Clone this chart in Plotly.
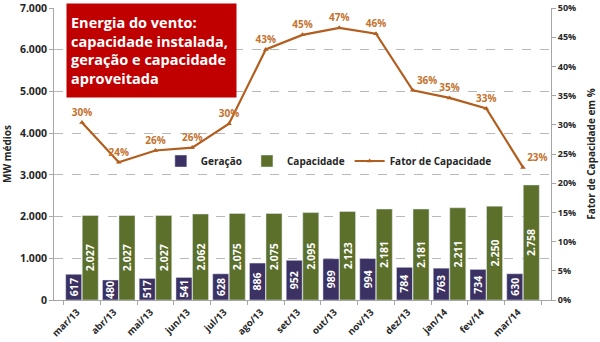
import plotly.graph_objects as go

categories = ["mar/13", "abr/13", "mai/13", "jun/13", "jul/13", "ago/13", "set/13",
              "out/13", "nov/13", "dez/13", "jan/14", "fev/14", "mar/14"]
geracao = [617, 480, 517, 541, 628, 886, 952, 989, 994, 784, 763, 734, 630]
capacidade = [2027, 2027, 2027, 2062, 2075, 2075, 2095, 2123, 2181, 2181, 2211, 2250, 2758]
fator = [30.4, 23.6, 25.6, 26.1, 30.2, 42.9, 45.4, 46.6, 45.6, 35.9, 34.6, 32.8, 22.7]
fator_labels = ["30%", "24%", "26%", "26%", "30%", "43%", "45%", "47%", "46%", "36%", "35%", "33%", "23%"]
left_ticks = [0, 1000, 2000, 3000, 4000, 5000, 6000, 7000]
right_ticks = [0, 5, 10, 15, 20, 25, 30, 35, 40, 45, 50]

def fmt(v):
    return f"{v:,}".replace(",", ".")

PURPLE = "#3b3162"
GREEN = "#5c702c"
LINE = "#b25e1e"
LABEL = "#c4722e"
TXT = "#262626"
FONT = "Open Sans"

label_pos = ["top center"] * len(categories)
label_pos[9] = "top right"
label_pos[12] = "top right"

fig = go.Figure()
fig.add_trace(go.Bar(
    x=categories, y=geracao, name="Geração", marker_color=PURPLE,
    text=[fmt(v) for v in geracao], textposition="inside", textangle=-90,
    insidetextanchor="middle", constraintext="none",
    textfont=dict(color="white", size=10.5, family=FONT, weight="bold"),
))
fig.add_trace(go.Bar(
    x=categories, y=capacidade, name="Capacidade", marker_color=GREEN,
    text=[fmt(v) for v in capacidade], textposition="inside", textangle=-90,
    insidetextanchor="middle", constraintext="none",
    textfont=dict(color="white", size=10.5, family=FONT, weight="bold"),
))
fig.add_trace(go.Scatter(
    x=categories, y=fator, name="Fator de Capacidade", yaxis="y2",
    mode="lines+markers+text", line=dict(color=LINE, width=2.2),
    marker=dict(symbol="triangle-up", size=5, color=LINE),
    text=fator_labels, textposition=label_pos,
    textfont=dict(color=LABEL, size=10, family=FONT, weight="bold"),
    cliponaxis=False,
))

fig.update_layout(
    width=600, height=342,
    margin=dict(l=54, r=49, t=8, b=42),
    paper_bgcolor="white", plot_bgcolor="white",
    separators=",.",
    barmode="group", bargap=0.1, bargroupgap=0.03,
    font=dict(family=FONT, color=TXT, size=10),
    xaxis=dict(
        type="category", tickangle=-45, showline=True, linecolor="#a6a6a6", linewidth=1,
        ticks="outside", ticklen=4, tickcolor="#a6a6a6", tickson="boundaries",
        tickfont=dict(size=9.5, family=FONT, color=TXT, weight="bold"),
        ticklabelshift=-5, ticklabelstandoff=2,
        automargin=False,
    ),
    yaxis=dict(
        range=[0, 7000], tickvals=left_ticks, ticktext=[fmt(v) for v in left_ticks],
        showline=True, linecolor="#a6a6a6", linewidth=1,
        ticks="outside", ticklen=4, tickcolor="#a6a6a6",
        showgrid=True, gridcolor="#b8b8b8", griddash="dash", gridwidth=1,
        zeroline=False, automargin=False,
        tickfont=dict(size=10.5, family=FONT, color=TXT, weight="bold"),
        title=dict(text="MW médios", font=dict(size=10, family=FONT, color=TXT, weight="bold"), standoff=6),
    ),
    yaxis2=dict(
        range=[0, 50], tickvals=right_ticks, ticktext=[f"{v}%" for v in right_ticks],
        overlaying="y", side="right",
        showline=True, linecolor="#a6a6a6", linewidth=1,
        ticks="outside", ticklen=4, tickcolor="#a6a6a6", showgrid=False, zeroline=False,
        automargin=False,
        tickfont=dict(size=9, family=FONT, color=TXT, weight="bold"),
        title=dict(text="Fator de Capacidade em %", font=dict(size=10, family=FONT, color=TXT, weight="bold"), standoff=12),
    ),
    legend=dict(
        orientation="h", x=0.215, y=0.476, xanchor="left", yanchor="middle",
        bgcolor="rgba(0,0,0,0)", font=dict(size=10, family=FONT, color=TXT, weight="bold"),
        itemwidth=30, tracegroupgap=0,
    ),
    annotations=[dict(
        text="Energia do vento:<br>capacidade instalada,<br>geração e capacidade<br>aproveitada",
        xref="paper", yref="paper", x=0.024, y=1.017, xanchor="left", yanchor="top",
        showarrow=False, align="left", valign="middle",
        bgcolor="#c00000", width=161, height=85, borderpad=4,
        font=dict(color="white", size=14.5, family=FONT, weight="bold"),
    )],
)

fig.write_html("out.html")
